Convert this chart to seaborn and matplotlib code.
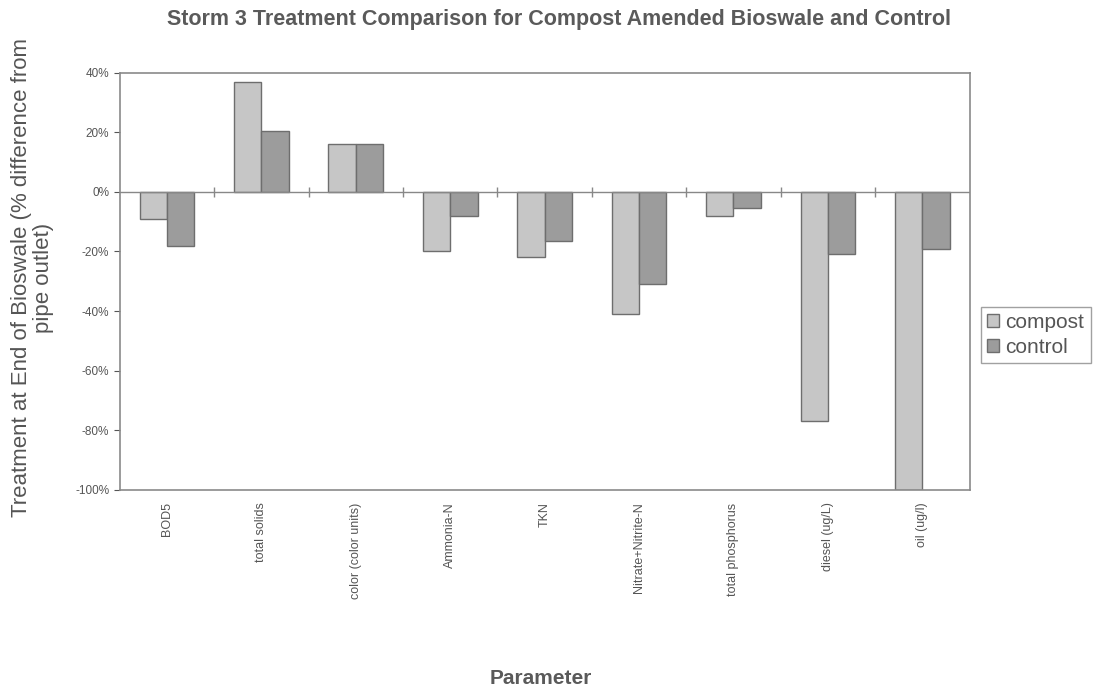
import matplotlib
matplotlib.use("Agg")
import matplotlib.pyplot as plt
import seaborn as sns
import pandas as pd
from matplotlib.ticker import PercentFormatter
from matplotlib.patches import Patch

categories = ["BOD5", "total solids", "color (color units)", "Ammonia-N", "TKN",
              "Nitrate+Nitrite-N", "total phosphorus", "diesel (ug/L)", "oil (ug/l)"]
compost = [-9, 37, 16, -20, -22, -41, -8, -77, -100]
control = [-18, 20.5, 16, -8, -16.5, -31, -5.5, -21, -19]
series_names = ["compost", "control"]
yticks = [40, 20, 0, -20, -40, -60, -80, -100]

df = pd.DataFrame({
    "Parameter": categories * 2,
    "value": compost + control,
    "series": [series_names[0]] * len(categories) + [series_names[1]] * len(categories),
})

sns.set_theme(style="white")
plt.rcParams["font.family"] = ["Liberation Sans", "DejaVu Sans"]
plt.rcParams["axes.unicode_minus"] = False

fig = plt.figure(figsize=(10.98, 6.92), dpi=100)
ax = fig.add_axes([0.109, 0.292, 0.774, 0.603])

palette = {"compost": "#c6c6c6", "control": "#9c9c9c"}
sns.barplot(data=df, x="Parameter", y="value", hue="series", order=categories,
            hue_order=series_names, palette=palette, width=0.58, gap=0,
            edgecolor="#6e6e6e", linewidth=1.0, saturation=1, ax=ax, legend=False)

ax.set_ylim(-100, 40)
ax.set_xlim(-0.5, len(categories) - 0.5)
ax.set_yticks(yticks)
ax.yaxis.set_major_formatter(PercentFormatter(decimals=0))
ax.tick_params(axis="y", labelsize=8.5, colors="#555555", length=4, width=0.8, direction="out", left=True)
ax.tick_params(axis="x", labelsize=9, colors="#555555", length=0, rotation=90, pad=9)
for lab in ax.get_yticklabels():
    lab.set_color("#555555")
for lab in ax.get_xticklabels():
    lab.set_color("#555555")

ax.axhline(0, color="#888888", linewidth=1.0, zorder=1)
bounds = [i + 0.5 for i in range(len(categories) - 1)]
ax.vlines(bounds, -1.6, 1.6, color="#888888", linewidth=1.0)

for side in ["left", "right", "top", "bottom"]:
    ax.spines[side].set_visible(True)
    ax.spines[side].set_color("#8a8a8a")
    ax.spines[side].set_linewidth(1.2)

ax.set_xlabel("Parameter", fontsize=15, fontweight="bold", color="#5a5a5a")
ax.xaxis.set_label_coords(0.495, -0.428)
ax.set_ylabel("Treatment at End of Bioswale (% difference from\npipe outlet)",
              fontsize=16, color="#555555", linespacing=1.1)
ax.yaxis.set_label_coords(-0.077, 0.508)

fig.text(0.509, 0.972, "Storm 3 Treatment Comparison for Compost Amended Bioswale and Control",
         ha="center", va="center", fontsize=15.5, fontweight="bold", color="#5a5a5a")

handles = [Patch(facecolor=palette[s], edgecolor="#6e6e6e", label=s) for s in series_names]
leg = fig.legend(handles=handles, loc="center left", bbox_to_anchor=(0.893, 0.516),
                 fontsize=15, frameon=True, handlelength=0.6, handleheight=0.6,
                 handletextpad=0.3, borderpad=0.3, labelspacing=0.3, fancybox=False,
                 borderaxespad=0)
leg.get_frame().set_edgecolor("#8a8a8a")
for t in leg.get_texts():
    t.set_color("#555555")

fig.savefig("out.png", dpi=100, facecolor="white")
